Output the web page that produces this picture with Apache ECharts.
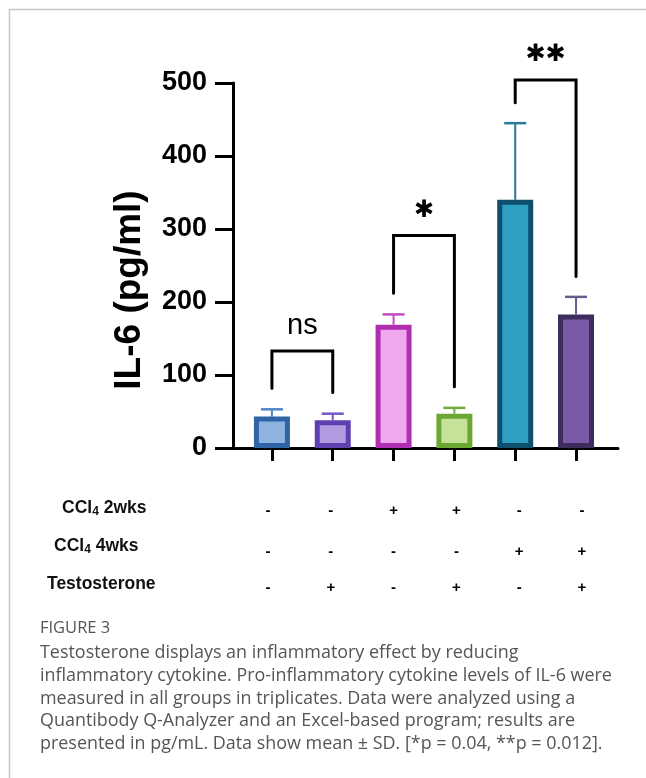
<!DOCTYPE html>
<html><head><meta charset="utf-8">
<script src="https://cdn.jsdelivr.net/npm/echarts@6/dist/echarts.min.js"></script>
<style>html,body{margin:0;padding:0;background:#fff}#c{width:646px;height:778px}</style>
</head><body><div id="c"></div>
<script>
// ---- data ----
const groups = ['G1', 'G2', 'G3', 'G4', 'G5', 'G6'];
const means = [43, 38, 169, 47, 340, 183];
const sds = [10, 9, 14, 8, 105, 24];
const fillColors = ['#8fb3df', '#b29be0', '#f0a8ee', '#c6e29a', '#2e9fc1', '#7a5aa6'];
const borderColors = ['#2f64a6', '#6040b0', '#b02fb0', '#6aa832', '#0e4f6e', '#3c2d5e'];
const errColors = ['#4f86c6', '#7458c4', '#c04ec0', '#6fae3c', '#2a7898', '#6a5a92'];
const yTicks = [0, 100, 200, 300, 400, 500];
const bracketFrom = [0, 2, 4];
const bracketTo = [1, 3, 5];
const bracketLeftY = [82, 212, 473];
const bracketRightY = [76, 84, 235];
const bracketTopY = [133, 291, 504];
const bracketLabels = ['ns', '*', '**'];
const rowLabels = ['CCl4 2wks', 'CCl4 4wks', 'Testosterone'];
const rowCCl2 = ['-', '-', '+', '+', '-', '-'];
const rowCCl4 = ['-', '-', '-', '-', '+', '+'];
const rowTesto = ['-', '+', '-', '+', '-', '+'];
const captionTitle = 'FIGURE 3';
const captionLines = [
  'Testosterone displays an inflammatory effect by reducing',
  'inflammatory cytokine. Pro-inflammatory cytokine levels of IL-6 were',
  'measured in all groups in triplicates. Data were analyzed using a',
  'Quantibody Q-Analyzer and an Excel-based program; results are',
  'presented in pg/mL. Data show mean \u00B1 SD. [*p = 0.04, **p = 0.012].'
];

// ---- helpers ----
const chart = echarts.init(document.getElementById('c'), null, {renderer: 'canvas'});
const mctx = document.createElement('canvas').getContext('2d');
const capFamily = '"Open Sans", Lato, sans-serif';
mctx.font = '100px ' + capFamily;
const capSize = 100 * 572 / mctx.measureText(captionLines[1]).width;

const bracketSeries = bracketFrom.map((a, k) => ({
  type: 'line',
  data: [[a, bracketLeftY[k]], [a, bracketTopY[k]], [bracketTo[k], bracketTopY[k]], [bracketTo[k], bracketRightY[k]]],
  symbol: 'none', clip: false, z: 5, silent: true,
  lineStyle: {color: '#000', width: 3, cap: 'round', join: 'miter'}
}));

const graphics = [];
// frame
graphics.push({type: 'line', shape: {x1: 9.5, y1: 9, x2: 9.5, y2: 778}, style: {stroke: '#c8c8c8', lineWidth: 1.5}});
graphics.push({type: 'line', shape: {x1: 9, y1: 9.5, x2: 646, y2: 9.5}, style: {stroke: '#c8c8c8', lineWidth: 1.5}});
// y axis name
graphics.push({type: 'text', x: 130, y: 290, rotation: Math.PI / 2,
  style: {text: 'IL-6 (pg/ml)', font: 'bold 37px "Liberation Sans", Arial, sans-serif', fill: '#000', align: 'center', verticalAlign: 'middle'}});
// table row labels
const rowLabelX = [62, 54, 47];
const rowLabelY = [508, 546, 584];
const rowSignY = [511, 552, 588];
rowLabels.forEach((t, r) => {
  let txt;
  if (t.indexOf('CCl4') === 0) {
    txt = '{a|CCl}{s|4}{a|' + t.slice(4) + '}';
  } else {
    txt = '{a|' + t + '}';
  }
  graphics.push({type: 'text', x: rowLabelX[r], y: rowLabelY[r],
    style: {text: txt, align: 'left', verticalAlign: 'middle',
      rich: {
        a: {fontFamily: '"Liberation Sans", Arial, sans-serif', fontWeight: 'bold', fontSize: 17.5, fill: '#111', lineHeight: 20, verticalAlign: 'middle'},
        s: {fontFamily: '"Liberation Sans", Arial, sans-serif', fontWeight: 'bold', fontSize: 12, fill: '#111', lineHeight: 20, verticalAlign: 'bottom', padding: [8, 0, 0, 0]}
      }}});
});
[rowCCl2, rowCCl4, rowTesto].forEach((row, r) => {
  row.forEach((s, i) => {
    graphics.push({type: 'text', x: 268 + i * 62.8, y: rowSignY[r],
      style: {text: s, font: 'bold 15px "Liberation Sans", Arial, sans-serif', fill: '#000', align: 'center', verticalAlign: 'middle'}});
  });
});
// caption
graphics.push({type: 'text', x: 40, y: 628,
  style: {text: captionTitle, font: '16.5px ' + capFamily, fill: '#555', align: 'left', verticalAlign: 'middle'}});
captionLines.forEach((line, k) => {
  graphics.push({type: 'text', x: 40, y: 653 + k * 22.75,
    style: {text: line, font: capSize.toFixed(2) + 'px ' + capFamily, fill: '#555', align: 'left', verticalAlign: 'middle'}});
});

const option = {
  animation: false,
  backgroundColor: '#fff',
  grid: {left: 233, right: 28, top: 83, bottom: 330, containLabel: false},
  xAxis: {
    type: 'value', min: -0.64, max: 5.69,
    splitLine: {show: false},
    axisLine: {show: true, onZero: false, lineStyle: {color: '#000', width: 3}},
    axisTick: {show: true, customValues: groups.map((g, i) => i), length: 13, lineStyle: {color: '#000', width: 3}},
    axisLabel: {show: false}
  },
  yAxis: {
    type: 'value', min: yTicks[0], max: yTicks[yTicks.length - 1], interval: 100,
    splitLine: {show: false},
    axisLine: {show: true, onZero: false, lineStyle: {color: '#000', width: 3}},
    axisTick: {show: true, length: 18, lineStyle: {color: '#000', width: 3}},
    axisLabel: {margin: 26, color: '#000', fontSize: 27, fontWeight: 'bold', fontFamily: '"Liberation Sans", Arial, sans-serif'}
  },
  series: [
    {
      type: 'custom', z: 1, clip: false,
      renderItem: (params, api) => {
        const i = api.value(0);
        const p0 = api.coord([i, api.value(1)]);
        const p1 = api.coord([i, api.value(2)]);
        const c = errColors[i];
        return {type: 'group', children: [
          {type: 'line', shape: {x1: p0[0], y1: p0[1], x2: p1[0], y2: p1[1]}, style: {stroke: c, lineWidth: 2}},
          {type: 'line', shape: {x1: p1[0] - 11, y1: p1[1], x2: p1[0] + 11, y2: p1[1]}, style: {stroke: c, lineWidth: 2.5}}
        ]};
      },
      data: means.map((m, i) => [i, m, m + sds[i]])
    },
    {
      type: 'bar', z: 2, barWidth: 36,
      data: means.map((m, i) => ({value: [i, m], itemStyle: {color: fillColors[i], borderColor: borderColors[i], borderWidth: 5}}))
    },
    ...bracketSeries,
    {
      type: 'custom', z: 6, clip: false,
      renderItem: (params, api) => {
        const k = params.dataIndex;
        const p = api.coord([api.value(0), api.value(1)]);
        const lab = bracketLabels[k];
        const isStar = lab !== 'ns';
        return {type: 'text', x: p[0], y: p[1] - 25,
          style: {text: isStar ? lab.replace(/\*/g, '\u2731') : lab,
            font: isStar ? 'bold 24px "DejaVu Sans", sans-serif' : '29px "Liberation Sans", Arial, sans-serif',
            fill: '#000', align: 'center', verticalAlign: 'middle'}};
      },
      data: bracketFrom.map((a, k) => [(a + bracketTo[k]) / 2, bracketTopY[k]])
    }
  ],
  graphic: graphics
};
chart.setOption(option);
</script>
</body></html>
